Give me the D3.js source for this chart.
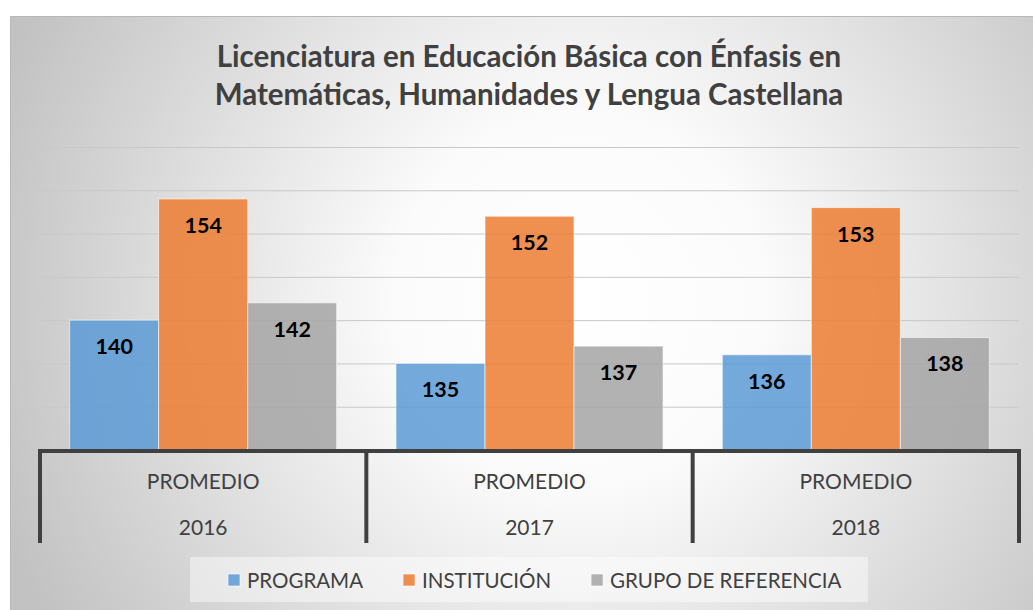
<!DOCTYPE html>
<html>
<head>
<meta charset="utf-8">
<script src="https://cdn.jsdelivr.net/npm/d3@7"></script>
<style>
  body { margin: 0; background: #fff; }
  svg { display: block; font-family: Lato, "Open Sans", sans-serif; }
</style>
</head>
<body>
<svg id="chart" width="1033" height="610"></svg>
<script>
const years = ["2016", "2017", "2018"];
const groupLabel = "PROMEDIO";
const series = ["PROGRAMA", "INSTITUCIÓN", "GRUPO DE REFERENCIA"];
const programa = [140, 135, 136];
const institucion = [154, 152, 153];
const grupoReferencia = [142, 137, 138];
const yTicks = [130, 135, 140, 145, 150, 155, 160];
const titleLines = ["Licenciatura en Educación Básica con Énfasis en",
                    "Matemáticas, Humanidades y Lengua Castellana"];

const colors = ["#5B9BD5", "#ED7D31", "#A5A5A5"];
const values = [programa, institucion, grupoReferencia];

const svg = d3.select("#chart"),
      width = +svg.attr("width"),
      height = +svg.attr("height");

// fondo con degradado radial
const defs = svg.append("defs");
const grad = defs.append("radialGradient")
    .attr("id", "bg")
    .attr("gradientUnits", "userSpaceOnUse")
    .attr("cx", 580).attr("cy", 300).attr("r", 620);
grad.append("stop").attr("offset", 0).attr("stop-color", "#ffffff");
grad.append("stop").attr("offset", 0.3).attr("stop-color", "#fbfbfb");
grad.append("stop").attr("offset", 1).attr("stop-color", "#c2c2c2");

svg.append("rect")
   .attr("x", 10).attr("y", 16)
   .attr("width", width - 10).attr("height", height - 16)
   .attr("fill", "url(#bg)");
svg.append("path")
   .attr("d", `M10.5,${height}V16.5H${width}`)
   .attr("fill", "none")
   .attr("stroke", "#b8b8b8");

const margin = {left: 40, right: 14, top: 147, bottom: 160};
const plotW = width - margin.left - margin.right;

const y = d3.scaleLinear().domain([125, 160]).range([450, 147]);
const x0 = d3.scaleBand().domain(years).range([margin.left, margin.left + plotW]).padding(0);
const x1 = d3.scaleBand().domain(series).range([0, x0.bandwidth()]).paddingInner(0).paddingOuter(0.333);

// titulo
svg.append("text")
   .attr("x", 529).attr("y", 67)
   .attr("text-anchor", "middle")
   .attr("font-size", 29.5)
   .attr("font-weight", "bold")
   .attr("fill", "#404040")
   .selectAll("tspan")
   .data(titleLines)
   .join("tspan")
   .attr("x", 529)
   .attr("dy", (d, i) => i === 0 ? 0 : 38)
   .text(d => d);

// lineas de cuadricula
svg.append("g")
   .attr("transform", `translate(${margin.left},0)`)
   .call(d3.axisLeft(y).tickValues(yTicks).tickSize(-plotW).tickFormat(""))
   .call(g => g.select(".domain").remove())
   .call(g => g.selectAll(".tick line").attr("stroke", "#c8c8c8").attr("stroke-width", 1));

// barras
const groups = svg.append("g")
   .selectAll("g")
   .data(years)
   .join("g")
   .attr("transform", d => `translate(${x0(d)},0)`);

groups.selectAll("rect")
   .data((d, i) => series.map((s, j) => ({s, j, v: values[j][i]})))
   .join("rect")
   .attr("x", d => x1(d.s))
   .attr("y", d => y(d.v))
   .attr("width", x1.bandwidth())
   .attr("height", d => y(125) - y(d.v))
   .attr("fill", d => colors[d.j])
   .attr("fill-opacity", 0.85)
   .attr("stroke", "#ffffff")
   .attr("stroke-opacity", 0.6)
   .attr("stroke-width", 1);

groups.selectAll("text")
   .data((d, i) => series.map((s, j) => ({s, j, v: values[j][i]})))
   .join("text")
   .attr("x", d => x1(d.s) + x1.bandwidth() / 2)
   .attr("y", d => y(d.v) + 34)
   .attr("text-anchor", "middle")
   .attr("font-size", 21.5)
   .attr("font-weight", "bold")
   .attr("fill", "#000")
   .text(d => d.v);

// eje de categorias
const axisY = y(125);
const tickBottom = 543;
const bounds = years.map(d => x0(d)).concat([x0.range()[1]]);

svg.append("line")
   .attr("x1", bounds[0] - 2).attr("x2", bounds[bounds.length - 1] + 2)
   .attr("y1", axisY + 1).attr("y2", axisY + 1)
   .attr("stroke", "#404040").attr("stroke-width", 4);

svg.append("g")
   .selectAll("line")
   .data(bounds)
   .join("line")
   .attr("x1", d => d).attr("x2", d => d)
   .attr("y1", axisY).attr("y2", tickBottom)
   .attr("stroke", "#404040").attr("stroke-width", 4);

const catLabels = svg.append("g")
   .attr("font-size", 21)
   .attr("fill", "#404040")
   .attr("text-anchor", "middle");

catLabels.selectAll("text.grp")
   .data(years)
   .join("text")
   .attr("class", "grp")
   .attr("x", d => x0(d) + x0.bandwidth() / 2)
   .attr("y", 489)
   .text(groupLabel);

catLabels.selectAll("text.yr")
   .data(years)
   .join("text")
   .attr("class", "yr")
   .attr("x", d => x0(d) + x0.bandwidth() / 2)
   .attr("y", 535)
   .text(d => d);

// leyenda
svg.append("rect")
   .attr("x", 190).attr("y", 557)
   .attr("width", 678).attr("height", 45)
   .attr("fill", "#ffffff").attr("fill-opacity", 0.45);

const legend = svg.append("g").attr("font-size", 20.5).attr("fill", "#404040");
const items = legend.selectAll("g")
   .data(series)
   .join("g");

items.append("rect")
   .attr("width", 12).attr("height", 12)
   .attr("y", 574)
   .attr("fill", (d, i) => colors[i])
   .attr("fill-opacity", 0.85)
   .attr("stroke", "#fff").attr("stroke-opacity", 0.6);

items.append("text")
   .attr("x", 19)
   .attr("y", 588)
   .text(d => d);

// posicionar elementos de la leyenda
let cx = 228;
items.each(function() {
    const w = d3.select(this).select("text").node().getComputedTextLength();
    d3.select(this).attr("transform", `translate(${cx},0)`);
    cx += 19 + w + 40;
});
</script>
</body>
</html>
